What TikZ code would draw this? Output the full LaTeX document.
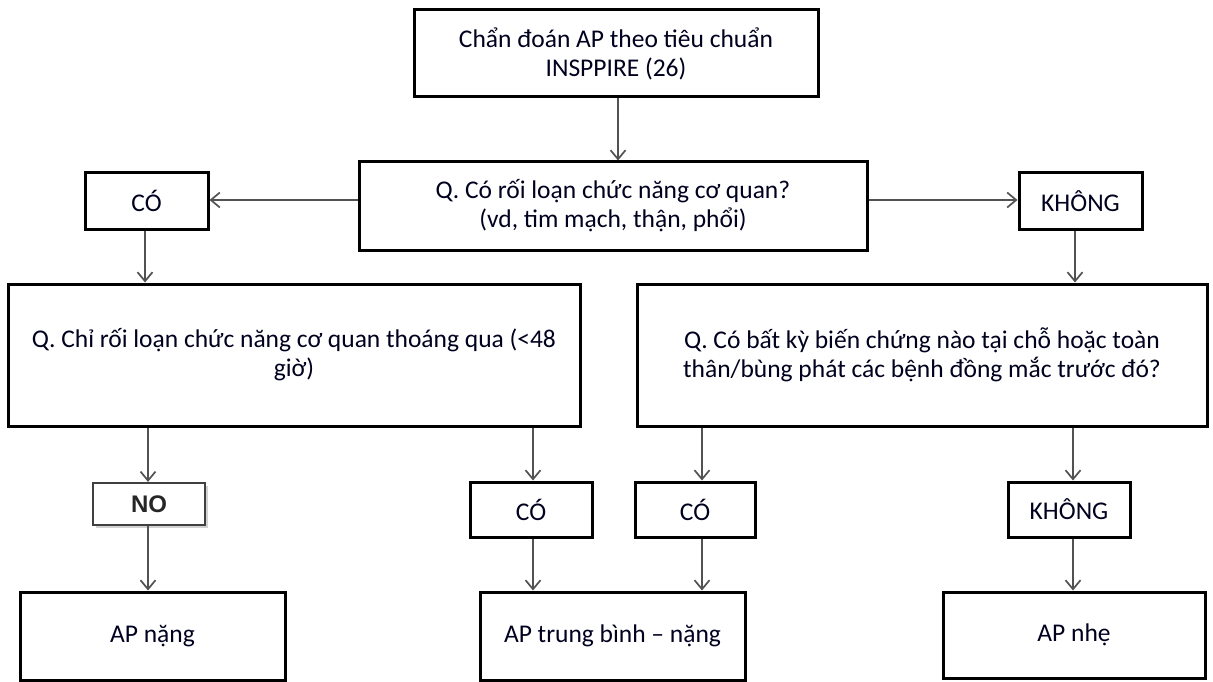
\documentclass[tikz,border=0pt]{standalone}
\usepackage{fontspec}
\setmainfont{Carlito}
\newfontfamily\arialfont{Liberation Sans}
\usetikzlibrary{arrows.meta,shadows,calc}
\begin{document}
\begin{tikzpicture}[x=1pt,y=-1pt,
  box/.style={draw=black,line width=3pt,fill=white,align=center,inner sep=2pt,
    font=\fontsize{25.5}{29}\selectfont,text=black!88!blue},
  arr/.style={draw=black!68,line width=1.7pt,-{Straight Barb[length=9pt,width=15pt,line width=1.7pt]}},
  nobox/.style={draw=black!75,line width=2.2pt,fill=white,align=center,
    font=\arialfont\bfseries\fontsize{24}{26}\selectfont,text=black!85,
    drop shadow={shadow xshift=3pt,shadow yshift=-3pt,fill=black!35}}]
\useasboundingbox[fill=white] (0,0) rectangle (1213,682);
% boxes
\node[box,minimum width=404pt,minimum height=87pt] (top) at (616,53.5) {Chẩn đoán AP theo tiêu chuẩn\\INSPPIRE (26)};
\node[box,minimum width=508pt,minimum height=88pt] (q) at (613,206) {Q. Có rối loạn chức năng cơ quan?\\(vd, tim mạch, thận, phổi)};
\node[box,minimum width=123pt,minimum height=56pt] (co1) at (146.5,201) {CÓ};
\node[box,minimum width=123pt,minimum height=56pt] (khong1) at (1080.5,201) {KHÔNG};
\node[box,minimum width=572pt,minimum height=142pt] (lq) at (294,355) {Q. Chỉ rối loạn chức năng cơ quan thoáng qua (<48\\giờ)};
\node[box,minimum width=570pt,minimum height=142pt] (rq) at (922,355) {Q. Có bất kỳ biến chứng nào tại chỗ hoặc toàn\\thân/bùng phát các bệnh đồng mắc trước đó?};
\node[nobox,minimum width=112pt,minimum height=42pt] (no) at (149,504) {NO};
\node[box,minimum width=122pt,minimum height=55pt] (co2) at (531,509.5) {CÓ};
\node[box,minimum width=120pt,minimum height=55pt] (co3) at (695,509.5) {CÓ};
\node[box,minimum width=122pt,minimum height=55pt] (khong2) at (1069,509.5) {KHÔNG};
\node[box,minimum width=265pt,minimum height=88pt] (apn) at (152.5,636) {AP nặng};
\node[box,minimum width=265pt,minimum height=88pt] (aptb) at (612.5,636) {AP trung bình – nặng};
\node[box,minimum width=262pt,minimum height=86pt] (apnhe) at (1074,635) {AP nhẹ};
% guide coordinates for arrow lanes
\coordinate (xa) at (618,0);
\coordinate (xb) at (145,0);
\coordinate (xc) at (1075,0);
\coordinate (xd) at (148,0);
\coordinate (xe) at (533,0);
\coordinate (xf) at (702,0);
\coordinate (xg) at (1073,0);
\coordinate (ya) at (0,200);
% arrows
\draw[arr] (top.south -| xa) -- (q.north -| xa);
\draw[arr] (q.west |- ya) -- (co1.east |- ya);
\draw[arr] (q.east |- ya) -- (khong1.west |- ya);
\draw[arr] (co1.south -| xb) -- (lq.north -| xb);
\draw[arr] (khong1.south -| xc) -- (rq.north -| xc);
\draw[arr] (lq.south -| xd) -- (no.north -| xd);
\draw[arr] (no.south -| xd) -- (apn.north -| xd);
\draw[arr] (lq.south -| xe) -- (co2.north -| xe);
\draw[arr] (co2.south -| xe) -- (aptb.north -| xe);
\draw[arr] (rq.south -| xf) -- (co3.north -| xf);
\draw[arr] (co3.south -| xf) -- (aptb.north -| xf);
\draw[arr] (rq.south -| xg) -- (khong2.north -| xg);
\draw[arr] (khong2.south -| xg) -- (apnhe.north -| xg);
\end{tikzpicture}
\end{document}
